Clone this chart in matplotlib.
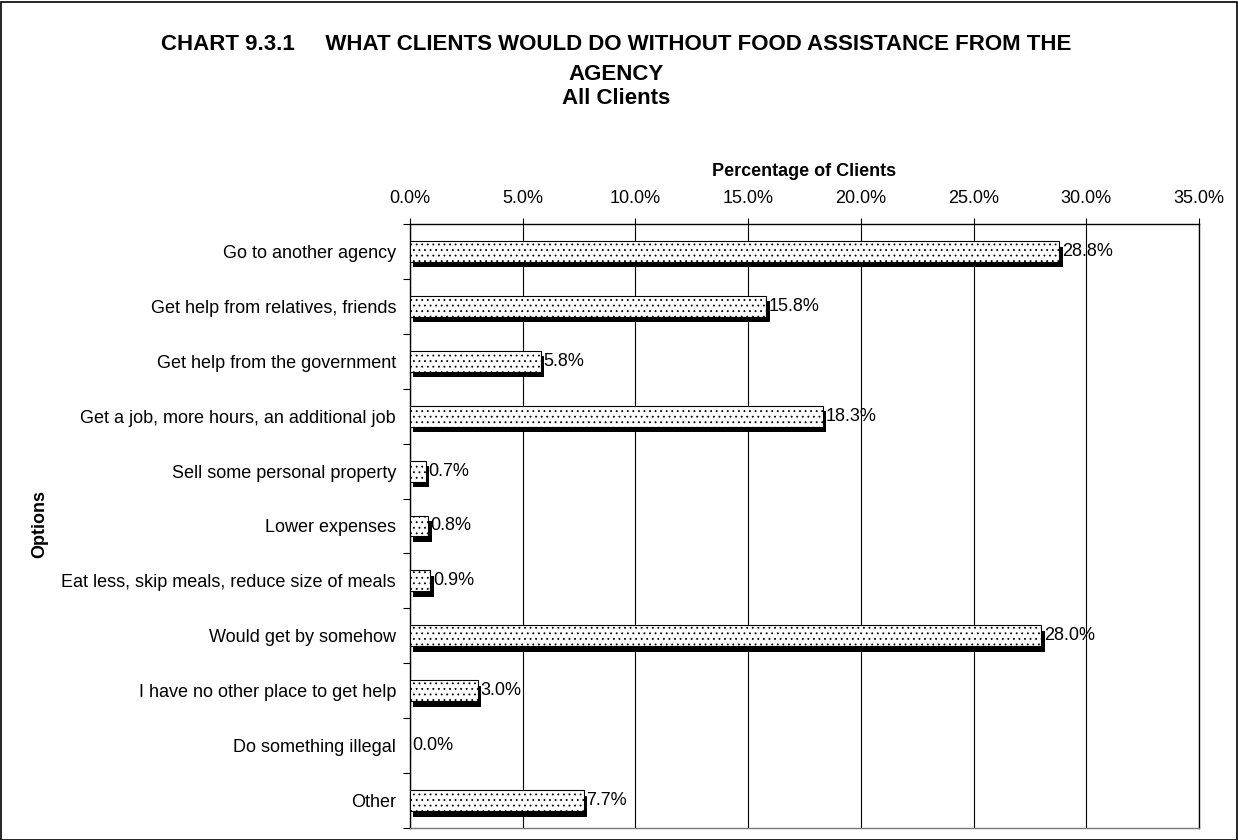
import matplotlib
matplotlib.use("Agg")
import matplotlib.pyplot as plt
import matplotlib.patheffects as pe
from matplotlib.ticker import FixedLocator, FuncFormatter
import numpy as np

plt.rcParams['font.family'] = ['Liberation Sans', 'DejaVu Sans']
plt.rcParams['hatch.linewidth'] = 0.6
plt.rcParams['hatch.color'] = '#7a7a7a'

options = [
    "Go to another agency",
    "Get help from relatives, friends",
    "Get help from the government",
    "Get a job, more hours, an additional job",
    "Sell some personal property",
    "Lower expenses",
    "Eat less, skip meals, reduce size of meals",
    "Would get by somehow",
    "I have no other place to get help",
    "Do something illegal",
    "Other",
]
percent = [28.8, 15.8, 5.8, 18.3, 0.7, 0.8, 0.9, 28.0, 3.0, 0.0, 7.7]
xticks = [0, 5, 10, 15, 20, 25, 30, 35]

FS = 13

fig = plt.figure(figsize=(12.38, 8.4), dpi=100)
ax = fig.add_axes([410 / 1238, 1 - 828 / 840, 789 / 1238, 604 / 840])

y = np.arange(len(options))
bars = ax.barh(y, percent, height=0.38, color='white', edgecolor='black',
               linewidth=0.8, hatch='...', zorder=3)
for b in bars:
    b.set_path_effects([pe.SimplePatchShadow(offset=(2.5, -4),
                                             shadow_rgbFace='black', alpha=1.0),
                        pe.Normal()])

for yi, v in zip(y, percent):
    ax.text(v + 0.12, yi, f"{v:.1f}%", va='center', ha='left', fontsize=FS,
            zorder=4)

ax.set_xlim(0, 35)
ax.set_ylim(len(options) - 0.5, -0.5)
ax.xaxis.set_major_locator(FixedLocator(xticks))
ax.xaxis.set_major_formatter(FuncFormatter(lambda v, p: f"{v:.1f}%"))
ax.xaxis.tick_top()
ax.xaxis.set_label_position('top')
ax.grid(axis='x', color='black', linewidth=0.8, zorder=0)
ax.tick_params(axis='x', direction='out', length=4, width=0.8, labelsize=FS,
               pad=8)

ax.set_yticks(y)
ax.set_yticklabels(options, fontsize=FS)
ax.set_yticks(np.arange(len(options) + 1) - 0.5, minor=True)
ax.tick_params(axis='y', which='major', length=0, pad=10)
ax.tick_params(axis='y', which='minor', length=5, width=0.8, direction='out')

for s in ax.spines.values():
    s.set_linewidth(1.0)
ax.spines['bottom'].set_color('#777777')

ax.set_xlabel("Percentage of Clients", fontsize=FS, fontweight='bold',
              labelpad=10)
fig.text(40 / 1238, 1 - 524 / 840, "Options", rotation=90, fontsize=FS,
         fontweight='bold', ha='center', va='center')

TS = 16
fig.text(616 / 1238, 1 - 45 / 840,
         "CHART 9.3.1     WHAT CLIENTS WOULD DO WITHOUT FOOD ASSISTANCE FROM THE",
         ha='center', va='center', fontsize=TS, fontweight='bold')
fig.text(616 / 1238, 1 - 74 / 840, "AGENCY", ha='center', va='center',
         fontsize=TS, fontweight='bold')
fig.text(616 / 1238, 1 - 99 / 840, "All Clients", ha='center', va='center',
         fontsize=TS, fontweight='bold')

border = plt.Rectangle((0.5 / 1238, 0.5 / 840), 1 - 2 / 1238, 1 - 2 / 840,
                       transform=fig.transFigure, fill=False,
                       edgecolor='black', linewidth=1.2)
fig.patches.append(border)

fig.savefig("out.png", dpi=100)
